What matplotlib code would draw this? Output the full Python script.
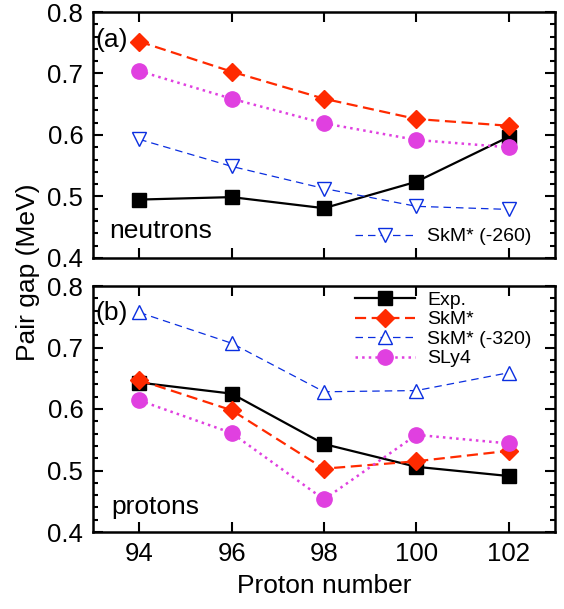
import matplotlib.pyplot as plt
from matplotlib.ticker import MultipleLocator

plt.rcParams['font.family'] = ['Liberation Sans', 'DejaVu Sans']

Z = [94, 96, 98, 100, 102]

# (a) neutrons
n_exp = [0.495, 0.499, 0.481, 0.524, 0.597]
n_skm = [0.752, 0.703, 0.659, 0.626, 0.615]
n_sly4 = [0.704, 0.659, 0.619, 0.592, 0.580]
n_skm260 = [0.593, 0.549, 0.513, 0.484, 0.479]

# (b) protons
p_exp = [0.643, 0.625, 0.543, 0.506, 0.491]
p_skm = [0.647, 0.598, 0.503, 0.515, 0.532]
p_skm320 = [0.757, 0.707, 0.628, 0.630, 0.659]
p_sly4 = [0.614, 0.561, 0.453, 0.558, 0.544]

red = '#ff2a00'
mag = '#e040e0'
blue = '#0a2ee0'

fig = plt.figure(figsize=(5.64, 6.09), dpi=100)
ax1 = fig.add_axes([93/564, 1-258/609, 462/564, 246/609])
ax2 = fig.add_axes([93/564, 1-532/609, 462/564, 246/609])

def style(ax):
    ax.set_xlim(93, 103)
    ax.set_ylim(0.4, 0.8)
    ax.xaxis.set_major_locator(MultipleLocator(2))
    ax.yaxis.set_major_locator(MultipleLocator(0.1))
    ax.yaxis.set_minor_locator(MultipleLocator(0.02))
    ax.tick_params(which='both', direction='in', top=True, right=True, width=1.5, labelsize=18.5)
    ax.tick_params(which='major', length=7.5, pad=7)
    ax.tick_params(which='minor', length=3.8)
    ax.tick_params(axis='x', which='minor', bottom=False, top=False)
    for s in ax.spines.values():
        s.set_linewidth(1.8)

# panel a
ax1.plot(Z, n_exp, '-', color='k', lw=1.6, marker='s', ms=10)
ax1.plot(Z, n_skm, '--', color=red, lw=1.6, marker='D', ms=9, dashes=(5, 2.5))
ax1.plot(Z, n_sly4, ':', color=mag, lw=1.8, marker='o', ms=11)
ax1.plot(Z, n_skm260, '--', color=blue, lw=0.9, marker='v', ms=9.5, mfc='white', mew=1.0,
         dashes=(6, 4), label='SkM* (-260)')
style(ax1)
ax1.set_xticklabels([])
ax1.text(0.006, 0.885, '(a)', transform=ax1.transAxes, fontsize=19, va='center')
ax1.text(0.035, 0.11, 'neutrons', transform=ax1.transAxes, fontsize=19, va='center')
ax1.legend(loc='lower right', bbox_to_anchor=(0.987, -0.02), frameon=False, fontsize=14,
           handlelength=3.1, numpoints=1, handletextpad=0.6)

# panel b
ax2.plot(Z, p_exp, '-', color='k', lw=1.6, marker='s', ms=10, label='Exp.')
ax2.plot(Z, p_skm, '--', color=red, lw=1.6, marker='D', ms=9, dashes=(5, 2.5), label='SkM*')
ax2.plot(Z, p_skm320, '--', color=blue, lw=0.9, marker='^', ms=9.5, mfc='white', mew=1.0,
         dashes=(6, 4), label='SkM* (-320)')
ax2.plot(Z, p_sly4, ':', color=mag, lw=1.8, marker='o', ms=11, label='SLy4')
style(ax2)
ax2.text(0.006, 0.89, '(b)', transform=ax2.transAxes, fontsize=19, va='center')
ax2.text(0.04, 0.10, 'protons', transform=ax2.transAxes, fontsize=19, va='center')
ax2.legend(loc='upper right', bbox_to_anchor=(0.987, 1.05), frameon=False, fontsize=14,
           handlelength=3.1, numpoints=1, handletextpad=0.6, labelspacing=0.1)

fig.text(28/564, 1-272/609, 'Pair gap (MeV)', rotation=90, fontsize=19, ha='center', va='center')
fig.text(324/564, 1-586/609, 'Proton number', fontsize=19, ha='center', va='center')

fig.savefig('out.png', dpi=100)
